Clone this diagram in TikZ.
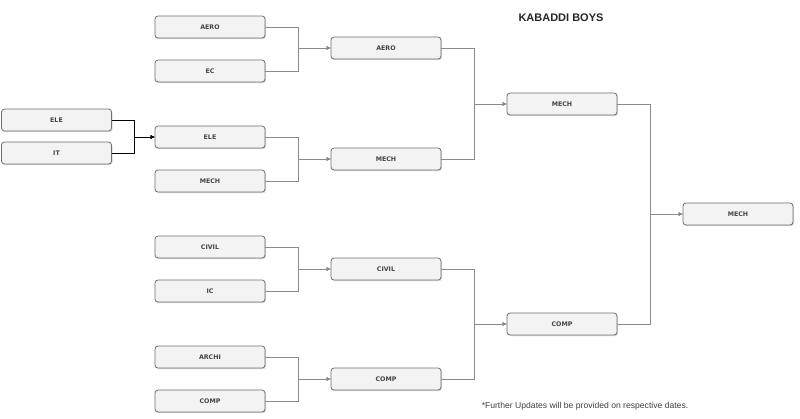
\documentclass[tikz,border=0pt]{standalone}
\usepackage{fontspec}
\setmainfont{Liberation Sans}
\newfontfamily\boxfont{DejaVu Sans}
\usetikzlibrary{shadows,arrows.meta}
\definecolor{boxfill}{HTML}{F3F3F3}
\definecolor{boxline}{HTML}{6E6E6E}
\definecolor{conncol}{HTML}{8A8A8A}
\definecolor{txtcol}{HTML}{444444}
\tikzset{
  team/.style={draw=boxline, line width=0.8pt, fill=boxfill, rounded corners=3pt,
    minimum width=110pt, minimum height=22pt, inner sep=0pt,
    font=\boxfont\bfseries\fontsize{6.3}{7}\selectfont, text=txtcol,
    drop shadow={shadow xshift=1pt, shadow yshift=-1.2pt, fill=black!25, opacity=0.6}},
  conn/.style={draw=conncol, line width=0.6pt, -{Triangle[length=4pt,width=3.5pt]}},
  connb/.style={draw=black, line width=0.6pt, -{Triangle[length=4pt,width=3.5pt]}}
}
\begin{document}
\begin{tikzpicture}[x=1pt,y=-1pt]
\useasboundingbox (0,0) rectangle (800,418);
% column 0
\node[team] (c0a) at (56.5,120) {ELE};
\node[team] (c0b) at (56.5,153) {IT};
% column 1
\node[team] (c1a) at (210,27) {AERO};
\node[team] (c1b) at (210,71) {EC};
\node[team] (c1c) at (210,137) {ELE};
\node[team] (c1d) at (210,181) {MECH};
\node[team] (c1e) at (210,247) {CIVIL};
\node[team] (c1f) at (210,291) {IC};
\node[team] (c1g) at (210,357) {ARCHI};
\node[team] (c1h) at (210,401) {COMP};
% column 2
\node[team] (c2a) at (386,48) {AERO};
\node[team] (c2b) at (386,159) {MECH};
\node[team] (c2c) at (386,269) {CIVIL};
\node[team] (c2d) at (386,379) {COMP};
% column 3
\node[team] (c3a) at (562,104) {MECH};
\node[team] (c3b) at (562,324) {COMP};
% column 4
\node[team] (c4a) at (738,214) {MECH};
% title and note
\node[font=\bfseries\fontsize{11}{13}\selectfont, text=black!85] (title) at (561,18) {KABADDI BOYS};
\node[font=\fontsize{8.6}{10}\selectfont, text=black!75] (note) at (585,406) {*Further Updates will be provided on respective dates.};
% connectors
\draw[connb] (c0a.east) -- ++(22,0) |- (c1c.west);
\draw[connb] (c0b.east) -- ++(22,0) |- (c1c.west);
\foreach \s/\t in {c1a/c2a,c1b/c2a,c1c/c2b,c1d/c2b,c1e/c2c,c1f/c2c,c1g/c2d,c1h/c2d,c2a/c3a,c2b/c3a,c2c/c3b,c2d/c3b,c3a/c4a,c3b/c4a}
  \draw[conn] (\s.east) -- ++(33,0) |- (\t.west);
\end{tikzpicture}
\end{document}
